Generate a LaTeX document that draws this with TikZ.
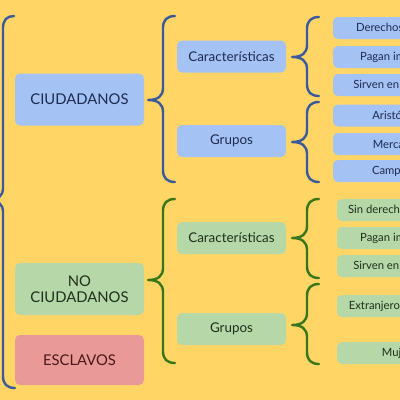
\documentclass[tikz,border=0pt]{standalone}
\usepackage{fontspec}
\setmainfont{Lato}
\definecolor{bg}{HTML}{FFD666}
\definecolor{bfill}{HTML}{A4C2F4}
\definecolor{gfill}{HTML}{B6D7A8}
\definecolor{rfill}{HTML}{EA9999}
\definecolor{bline}{HTML}{3B5A9E}
\definecolor{gline}{HTML}{38761D}
\definecolor{btext}{HTML}{1D2B4F}
\definecolor{gtext}{HTML}{1E301C}
\definecolor{rtext}{HTML}{4A1818}
\newcommand\brc[5]{% color, xc, ytop, ymid, ybot
 \draw[braceline,#1] ({#2+27},#3) .. controls ({#2+19},#3) and ({#2+15},{#3+4}) .. ({#2+15},{#3+12}) -- ({#2+15},{#4-12}) .. controls ({#2+15},{#4-4}) and ({#2+10},#4) .. (#2,#4) .. controls ({#2+10},#4) and ({#2+15},{#4+4}) .. ({#2+15},{#4+12}) -- ({#2+15},{#5-12}) .. controls ({#2+15},{#5-4}) and ({#2+19},#5) .. ({#2+27},#5);}
\tikzset{
 braceline/.style={line width=2.4pt, line cap=round, line join=round},
 box/.style={rounded corners=5pt, inner sep=0pt, align=center},
 bigbox/.style={box, minimum width=129pt, minimum height=52pt, font=\fontsize{14.8}{16.5}\selectfont},
 midbox/.style={box, minimum width=109pt, minimum height=32pt, font=\fontsize{13.4}{15}\selectfont},
 smallbox/.style={box, minimum width=138pt, minimum height=22pt, font=\fontsize{11.3}{13}\selectfont},
 bluebox/.style={fill=bfill, text=btext},
 greenbox/.style={fill=gfill, text=gtext},
 redbox/.style={fill=rfill, text=rtext},
}
\begin{document}
\begin{tikzpicture}[x=1pt,y=-1pt]
\useasboundingbox (0,0) rectangle (400,400);
\clip (0,0) rectangle (400,400);
\fill[bg] (0,0) rectangle (400,400);
% big left brace
\draw[braceline,bline] (14,16) .. controls (7,16) and (3,20) .. (3,28) -- (3,188) .. controls (3,196) and (-2,200) .. (-12,200) .. controls (-2,200) and (3,204) .. (3,212) -- (3,376) .. controls (3,384) and (7,388) .. (15,388);
% level 1
\node[bigbox,bluebox] (ciud) at (79.5,99.5) {CIUDADANOS};
\node[bigbox,greenbox] (nociud) at (79.5,289) {NO\\CIUDADANOS};
\node[bigbox,redbox,minimum height=50pt] (escl) at (79.5,360) {ESCLAVOS};
% braces level 1
\brc{bline}{148}{16}{100}{182}
\brc{gline}{148}{199}{280}{363}
% level 2
\node[midbox,bluebox] (bcar) at (231.5,56.5) {Características};
\node[midbox,bluebox] (bgru) at (231.5,141) {Grupos};
\node[midbox,greenbox] (gcar) at (231.5,238) {Características};
\node[midbox,greenbox] (ggru) at (231.5,329) {Grupos};
% braces level 2
\brc{bline}{292}{17}{57}{96}
\brc{bline}{292}{102}{142}{182}
\brc{gline}{292}{199}{238}{278}
\brc{gline}{292}{284}{325}{364}
% level 3 blue
\node[smallbox,bluebox] (b1) at (402,28) {Derechos políticos};
\node[smallbox,bluebox] (b2) at (402,57) {Pagan impuestos};
\node[smallbox,bluebox] (b3) at (402,85) {Sirven en el ejército};
\node[smallbox,bluebox] (b4) at (402,115.5) {Aristócratas};
\node[smallbox,bluebox] (b5) at (402,144) {Mercaderes};
\node[smallbox,bluebox] (b6) at (402,171) {Campesinos};
% level 3 green
\node[smallbox,greenbox,minimum width=130pt] (g1) at (402,210) {Sin derechos políticos};
\node[smallbox,greenbox,minimum width=130pt] (g2) at (402,238) {Pagan impuestos};
\node[smallbox,greenbox,minimum width=130pt] (g3) at (402,266) {Sirven en el ejército};
\node[smallbox,greenbox,minimum width=130pt] (g4) at (402,306) {Extranjeros (metecos)};
\node[smallbox,greenbox,minimum width=130pt] (g5) at (402,353) {Mujeres};
\end{tikzpicture}
\end{document}
